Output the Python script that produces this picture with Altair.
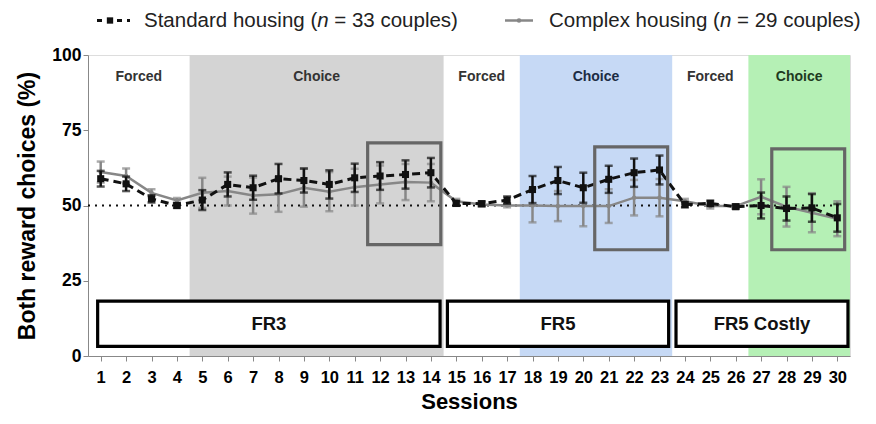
import altair as alt
import pandas as pd

sessions = list(range(1, 31))
std_mean = [58.9, 57.2, 52.2, 50.0, 51.8, 57.0, 55.9, 58.9, 58.3, 57.0, 59.2, 59.8, 60.3, 60.9, 50.7,
            50.6, 51.8, 55.3, 58.3, 55.9, 58.7, 60.9, 61.8, 50.3, 50.7, 49.6, 50.0, 49.0, 49.2, 45.9]
std_sem = [2.6, 2.4, 1.2, 0.8, 3.3, 4.0, 4.0, 4.9, 4.0, 4.7, 4.7, 4.6, 4.7, 4.9, 0.8,
           0.8, 1.2, 4.5, 4.5, 5.0, 4.5, 4.7, 4.8, 0.9, 0.9, 0.7, 4.3, 4.0, 4.6, 4.6]
cpx_mean = [61.1, 59.8, 54.2, 51.7, 54.2, 54.8, 53.3, 53.7, 55.9, 54.6, 56.1, 57.0, 57.8, 57.6, 51.4,
            50.3, 50.0, 50.0, 49.8, 49.8, 49.8, 52.6, 52.6, 51.4, 49.8, 49.8, 52.9, 49.6, 47.6, 45.6]
cpx_sem = [3.5, 2.5, 1.2, 0.8, 5.0, 4.8, 6.0, 5.8, 6.3, 6.5, 6.1, 6.3, 6.0, 6.2, 0.8,
           0.6, 0.6, 5.6, 5.0, 6.7, 5.6, 5.9, 6.2, 0.8, 0.8, 0.6, 5.8, 6.6, 6.5, 5.8]

# shaded phases
phase_start = [4.5, 17.5, 26.5]
phase_end = [14.5, 23.5, 30.5]
phase_color = ["#d4d4d4", "#c6d9f5", "#b5f0b5"]

# phase labels
phase_label = ["Forced", "Choice", "Forced", "Choice", "Forced", "Choice"]
phase_label_x = [2.5, 9.5, 16.0, 20.5, 25.0, 28.5]
phase_label_color = ["#333333", "#333333", "#333333", "#1c2c44", "#333333", "#1f3a1f"]

# schedule boxes
sched_label = ["FR3", "FR5", "FR5 Costly"]
sched_start = [0.88, 14.65, 23.65]
sched_end = [14.36, 23.36, 30.42]

# highlight boxes
hl_x1 = [11.51, 20.45, 27.42]
hl_x2 = [14.39, 23.32, 30.29]
hl_y1 = [37.0, 35.3, 35.3]
hl_y2 = [70.8, 69.5, 68.8]

FONT = "Liberation Sans"

xs = alt.Scale(domain=[0.5, 30.5], nice=False, zero=False)
ys = alt.Scale(domain=[0, 100], nice=False)

x_axis = alt.Axis(
    values=sessions, title="Sessions", labelAngle=0, labelOverlap=False, labelFlush=False,
    labelBound=False, labelFontSize=16.5, labelFontWeight="bold", titleFontSize=22,
    titleFontWeight="bold", titlePadding=6, labelPadding=8, grid=False)
y_axis = alt.Axis(
    values=[0, 25, 50, 75, 100], title="Both reward choices (%)", labelFontSize=17.5,
    labelFontWeight="bold", titleFontSize=23, titleFontWeight="bold", titlePadding=12, grid=False)


def X(f):
    return alt.X(f, scale=xs, axis=x_axis)


def Y(f):
    return alt.Y(f, scale=ys, axis=y_axis)


df = pd.DataFrame({
    "s": sessions,
    "sm": std_mean, "slo": [m - e for m, e in zip(std_mean, std_sem)], "shi": [m + e for m, e in zip(std_mean, std_sem)],
    "cm": cpx_mean, "clo": [m - e for m, e in zip(cpx_mean, cpx_sem)], "chi": [m + e for m, e in zip(cpx_mean, cpx_sem)],
})

bg_df = pd.DataFrame({"x1": phase_start, "x2": phase_end, "c": phase_color, "y1": [0] * 3, "y2": [100] * 3})
bg = alt.Chart(bg_df).mark_rect().encode(
    x=X("x1:Q"), x2="x2:Q", y=Y("y1:Q"), y2="y2:Q",
    color=alt.Color("c:N", scale=None),
)

pl_df = pd.DataFrame({"x": phase_label_x, "t": phase_label, "c": phase_label_color, "y": [92.7] * 6})
phase_text = alt.Chart(pl_df).mark_text(font=FONT, fontSize=14, fontWeight="bold").encode(
    x=X("x:Q"), y=Y("y:Q"), text="t:N", color=alt.Color("c:N", scale=None))

chance = alt.Chart(pd.DataFrame({"y": [50], "x1": [0.5], "x2": [30.5]})).mark_rule(
    color="#111111", strokeWidth=2, strokeDash=[2, 5]).encode(
    x=X("x1:Q"), x2="x2:Q", y=Y("y:Q"))

sched_df = pd.DataFrame({"x1": sched_start, "x2": sched_end, "t": sched_label,
                         "xm": [(a + b) / 2 for a, b in zip(sched_start, sched_end)],
                         "y1": [3.2] * 3, "y2": [18.2] * 3, "ym": [10.7] * 3})
sched_box = alt.Chart(sched_df).mark_rect(fill="white", stroke="black", strokeWidth=3.2).encode(
    x=X("x1:Q"), x2="x2:Q", y=Y("y1:Q"), y2="y2:Q")
sched_text = alt.Chart(sched_df).mark_text(font=FONT, fontSize=18.5, fontWeight="bold", color="#111111").encode(
    x=X("xm:Q"), y=Y("ym:Q"), text="t:N")

GRAY = "#878787"
c_err = alt.Chart(df).mark_rule(color=GRAY, strokeWidth=2.5).encode(
    x=X("s:Q"), y=Y("clo:Q"), y2="chi:Q")
c_cap_hi = alt.Chart(df).mark_tick(color=GRAY, orient="horizontal", size=8, thickness=2.5).encode(
    x=X("s:Q"), y=Y("chi:Q"))
c_cap_lo = alt.Chart(df).mark_tick(color=GRAY, orient="horizontal", size=8, thickness=2.5).encode(
    x=X("s:Q"), y=Y("clo:Q"))
c_line = alt.Chart(df).mark_line(color=GRAY, strokeWidth=2.5).encode(
    x=X("s:Q"), y=Y("cm:Q"))
c_pts = alt.Chart(df).mark_circle(color=GRAY, size=20, opacity=1).encode(
    x=X("s:Q"), y=Y("cm:Q"))

BLK = "#111111"
s_err = alt.Chart(df).mark_rule(color=BLK, strokeWidth=2.5).encode(
    x=X("s:Q"), y=Y("slo:Q"), y2="shi:Q")
s_cap_hi = alt.Chart(df).mark_tick(color=BLK, orient="horizontal", size=8, thickness=2.5).encode(
    x=X("s:Q"), y=Y("shi:Q"))
s_cap_lo = alt.Chart(df).mark_tick(color=BLK, orient="horizontal", size=8, thickness=2.5).encode(
    x=X("s:Q"), y=Y("slo:Q"))
s_line = alt.Chart(df).mark_line(color=BLK, strokeWidth=3, strokeDash=[8, 5]).encode(
    x=X("s:Q"), y=Y("sm:Q"))
s_pts = alt.Chart(df).mark_square(color=BLK, size=50, opacity=1).encode(
    x=X("s:Q"), y=Y("sm:Q"))

hl_df = pd.DataFrame({"x1": hl_x1, "x2": hl_x2, "y1": hl_y1, "y2": hl_y2})
hl = alt.Chart(hl_df).mark_rect(fill=None, fillOpacity=0, stroke="#666666", strokeWidth=3.2).encode(
    x=X("x1:Q"), x2="x2:Q", y=Y("y1:Q"), y2="y2:Q")

# legend (drawn above the plot area)
LY = -34.5
one = df.head(1)
leg_std_line = alt.Chart(one).mark_rule(color=BLK, strokeWidth=3, strokeDash=[5, 5]).encode(
    x=alt.value(9), x2=alt.value(42), y=alt.value(LY))
leg_std_pt = alt.Chart(one).mark_square(color=BLK, size=40, opacity=1).encode(
    x=alt.value(22), y=alt.value(LY))
leg_cpx_line = alt.Chart(one).mark_rule(color=GRAY, strokeWidth=2.5).encode(
    x=alt.value(417), x2=alt.value(445), y=alt.value(LY))
leg_cpx_pt = alt.Chart(one).mark_circle(color=GRAY, size=20, opacity=1).encode(
    x=alt.value(431), y=alt.value(LY))


def leg_text(txt, x, italic=False):
    return alt.Chart(one).mark_text(
        text=txt, font=FONT, fontSize=20.5, align="left", baseline="middle", color="#222222",
        fontStyle="italic" if italic else "normal").encode(x=alt.value(x), y=alt.value(LY))


legend = (leg_std_line + leg_std_pt + leg_cpx_line + leg_cpx_pt
          + leg_text("Standard housing (", 56) + leg_text("n", 229.2, True) + leg_text("= 33 couples)", 246.3)
          + leg_text("Complex housing (", 461) + leg_text("n", 631.9, True) + leg_text("= 29 couples)", 649.0))

chart = alt.layer(
    bg, phase_text, chance, sched_box, sched_text,
    c_err, c_cap_hi, c_cap_lo, c_line, c_pts,
    s_err, s_cap_hi, s_cap_lo, s_line, s_pts,
    hl, legend
).properties(
    width=762, height=301,
    autosize=alt.AutoSizeParams(type="none"),
    padding={"left": 80, "top": 47, "right": 18, "bottom": 60},
).configure_view(stroke=None).configure_axis(
    domainColor="black", domainWidth=2.5, tickColor="black", tickWidth=2, tickSize=7,
    labelColor="#111111", titleColor="#111111", labelFont=FONT, titleFont=FONT,
).configure(background="white")

chart.save("out.html", embed_options={"renderer": "svg", "actions": False})
